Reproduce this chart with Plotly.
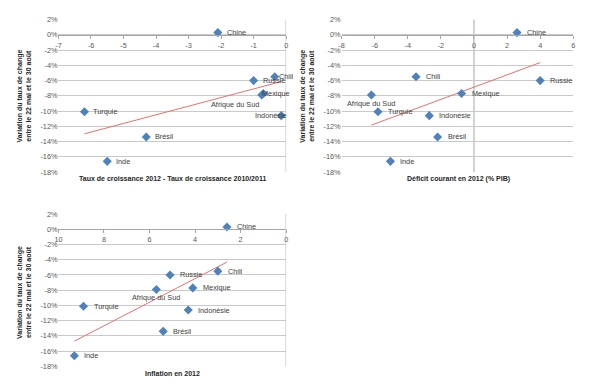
import numpy as np
import plotly.graph_objects as go

# ---- data ----
countries = ["Chine", "Chili", "Russie", "Mexique", "Afrique du Sud",
             "Indonésie", "Turquie", "Brésil", "Inde"]
fx_change_pct = [0.3, -5.5, -6.0, -7.7, -7.9, -10.6, -10.1, -13.4, -16.6]
growth_gap = [-2.1, -0.35, -1.0, -0.7, -0.75, -0.15, -6.2, -4.3, -5.5]
current_account = [2.6, -3.5, 4.0, -0.75, -6.2, -2.7, -5.8, -2.2, -5.05]
inflation = [2.6, 3.0, 5.1, 4.1, 5.7, 4.3, 8.9, 5.4, 9.3]

y_tick_vals = [2, 0, -2, -4, -6, -8, -10, -12, -14, -16, -18]
y_tick_text = ["2%", "0%", "-2%", "-4%", "-6%", "-8%", "-10%", "-12%", "-14%", "-16%", "-18%"]
x1_ticks = [-7, -6, -5, -4, -3, -2, -1, 0]
x1_text = ["-7", "-6", "-5", "-4", "-3", "-2", "-1", "0"]
x2_ticks = [-8, -6, -4, -2, 0, 2, 4, 6]
x2_text = ["-8", "-6", "-4", "-2", "0", "2", "4", "6"]
x3_ticks = [10, 8, 6, 4, 2, 0]
x3_text = ["10", "8", "6", "4", "2", "0"]

x_titles = ["Taux de croissance 2012 - Taux de croissance 2010/2011",
            "Déficit courant en 2012 (% PIB)",
            "Inflation en 2012"]
y_title = "Variation du taux de change<br>entre le 22 mai et le 30 août"

# ---- styles / layout ----
W, H = 602, 388
FONT = "Liberation Sans"
BLUE = "#4F81BD"
GRID = "#c9c9c9"
AXIS = "#a6a6a6"
TREND = "#E8706B"
LABEL_COL = "#404040"
TICK_COL = "#595959"
y_range = [-18, 2]

# panels: pixel boxes (left, right, top, bottom)
panels = [
    dict(box=(55, 285, 16, 172), x=growth_gap, xr=[-7, 0], tv=x1_ticks, tt=x1_text,
         title_xy=(170, 179), ytitle_xy=(20, 94),
         # per-label placement: (xanchor, xshift, yshift)
         place=[("left", 7, 0), ("left", 2, 0), ("left", 7, 0), ("left", -3, 0),
                ("right", -1, -9), ("right", 8, 0), ("left", 7, 0), ("left", 7, 0),
                ("left", 7, 0)]),
    dict(box=(341, 575, 16, 172), x=current_account, xr=[-8, 6], tv=x2_ticks, tt=x2_text,
         title_xy=(459, 179), ytitle_xy=(306, 94),
         place=[("left", 8, 0)] * 4 + [("center", 0, -8)] + [("left", 8, 0)] * 4),
    dict(box=(55, 285, 215, 371), x=inflation, xr=[10, 0], tv=x3_ticks, tt=x3_text,
         title_xy=(170, 378), ytitle_xy=(20, 295),
         place=[("left", 8, 0)] * 4 + [("center", 0, -8)] + [("left", 8, 0)] * 4),
]

fig = go.Figure()
annotations = []
shapes = []
layout_axes = {}

for i, p in enumerate(panels, start=1):
    xa = "x" if i == 1 else f"x{i}"
    ya = "y" if i == 1 else f"y{i}"
    xkey = "xaxis" if i == 1 else f"xaxis{i}"
    ykey = "yaxis" if i == 1 else f"yaxis{i}"
    l, r, t, b = p["box"]
    xd = [l / W, r / W]
    yd = [1 - b / H, 1 - t / H]
    zero_pos = yd[0] + (0 - y_range[0]) / (y_range[1] - y_range[0]) * (yd[1] - yd[0])

    layout_axes[xkey] = dict(domain=xd, range=p["xr"], anchor="free", position=zero_pos,
                             tickvals=p["tv"], ticktext=p["tt"],
                             showgrid=False, zeroline=False, showline=True,
                             linecolor=AXIS, linewidth=1, ticks="outside", ticklen=3,
                             tickcolor=AXIS, fixedrange=True,
                             tickfont=dict(family=FONT, size=7.3, color=TICK_COL))
    layout_axes[ykey] = dict(domain=yd, range=y_range, anchor=xa,
                             tickvals=y_tick_vals, ticktext=y_tick_text,
                             showgrid=True, gridcolor=GRID, gridwidth=1,
                             zeroline=False, showline=False, ticks="",
                             fixedrange=True,
                             tickfont=dict(family=FONT, size=7.3, color=TICK_COL))

    xs = np.array(p["x"], dtype=float)
    ys = np.array(fx_change_pct, dtype=float)

    # vertical axis line at x = 0
    shapes.append(dict(type="line", xref=xa, yref=f"{ya} domain", x0=0, x1=0, y0=0, y1=1,
                       line=dict(color=AXIS, width=1), layer="below"))

    # trend line (least squares)
    slope, intercept = np.polyfit(xs, ys, 1)
    tx = np.array([xs.min(), xs.max()])
    fig.add_trace(go.Scatter(x=tx, y=slope * tx + intercept, mode="lines",
                             line=dict(color=TREND, width=1), xaxis=xa, yaxis=ya,
                             hoverinfo="skip", showlegend=False))

    fig.add_trace(go.Scatter(x=xs, y=ys, mode="markers",
                             marker=dict(symbol="diamond", size=7, color=BLUE),
                             xaxis=xa, yaxis=ya, showlegend=False,
                             text=countries))

    for name, xv, yv, (anc, xs_, ys_) in zip(countries, xs, ys, p["place"]):
        annotations.append(dict(x=xv, y=yv, xref=xa, yref=ya, text=name, showarrow=False,
                                xanchor=anc, yanchor="middle", xshift=xs_, yshift=ys_,
                                font=dict(family=FONT, size=7.3, color=LABEL_COL)))

    tx_, ty_ = p["title_xy"]
    annotations.append(dict(x=tx_ / W, y=1 - ty_ / H, xref="paper", yref="paper",
                            text=f"<b>{x_titles[i - 1]}</b>", showarrow=False,
                            xanchor="center", yanchor="middle",
                            font=dict(family=FONT, size=7, color="#262626")))
    yx_, yy_ = p["ytitle_xy"]
    annotations.append(dict(x=yx_ / W, y=1 - yy_ / H, xref="paper", yref="paper",
                            text=f"<b>{y_title}</b>", showarrow=False, textangle=-90,
                            xanchor="center", yanchor="middle",
                            font=dict(family=FONT, size=7, color="#262626")))

fig.update_layout(width=W, height=H, margin=dict(l=0, r=0, t=0, b=0),
                  paper_bgcolor="white", plot_bgcolor="white",
                  annotations=annotations, shapes=shapes, showlegend=False,
                  **layout_axes)

fig.write_html("out.html", config={"displayModeBar": False},
               post_script="document.body.style.margin='0';document.body.style.overflow='hidden';")
